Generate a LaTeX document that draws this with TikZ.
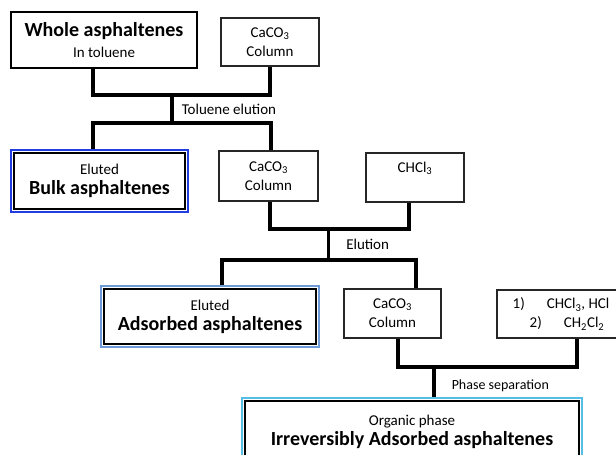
\documentclass[tikz,border=0pt]{standalone}
\usepackage{fontspec}
\setmainfont{Carlito}
\usetikzlibrary{fit}

\newcommand{\bigname}[1]{{\fontsize{20}{24}\selectfont\bfseries #1}}
\newcommand{\chemsub}[1]{\textsubscript{#1}}

\tikzset{
  box/.style={draw=black!85,line width=1.1pt,align=center,inner sep=0pt,
    font=\fontsize{15}{18}\selectfont},
  bigbox/.style={draw,line width=2.8pt,align=center,inner sep=0pt,
    font=\fontsize{15}{18}\selectfont},
  ring/.style={draw=#1,line width=2pt,inner sep=2pt},
  link/.style={line width=3.5pt},
  steplabel/.style={anchor=west,inner sep=0pt,font=\fontsize{15}{18}\selectfont}
}
\definecolor{bulkblue}{RGB}{35,60,225}
\definecolor{adsblue}{RGB}{110,155,215}
\definecolor{irrblue}{RGB}{85,190,230}

\begin{document}
\begin{tikzpicture}[x=1pt,y=-1pt]
\useasboundingbox (0,0) rectangle (616,455);
\clip (0,0) rectangle (616,455);

% first column step
\node[bigbox,minimum width=186,minimum height=56] (whole) at (104,40)
  {\bigname{Whole asphaltenes}\\[3pt]In toluene};
\node[box,minimum width=98,minimum height=48] (col1) at (270,42)
  {CaCO\chemsub{3}\\[1pt]Column};
\node[bigbox,minimum width=171,minimum height=56] (bulk) at (99.5,181)
  {Eluted\\[2pt]\bigname{Bulk asphaltenes}};
\node[ring=bulkblue,fit=(bulk)] (bulkring) {};

% second column step
\node[box,minimum width=99,minimum height=50] (col2) at (268.5,176)
  {CaCO\chemsub{3}\\[1pt]Column};
\node[box,minimum width=98,minimum height=49] (chcl) at (415,177.5)
  {CHCl\chemsub{3}\\[-3pt]\strut};
\node[bigbox,minimum width=212,minimum height=55] (ads) at (210,316.5)
  {Eluted\\[2pt]\bigname{Adsorbed asphaltenes}};
\node[ring=adsblue,fit=(ads)] (adsring) {};

% third column step
\node[box,minimum width=97,minimum height=49] (col3) at (392.5,313.5)
  {CaCO\chemsub{3}\\[1pt]Column};
\node[box,minimum width=128,minimum height=48] (acid) at (561,314)
  {1)\hspace{22pt}CHCl\chemsub{3}, HCl\\[1pt]
   \hspace{12pt}2)\hspace{22pt}CH\chemsub{2}Cl\chemsub{2}};
\node[bigbox,minimum width=334,minimum height=61] (irr) at (412,431.5)
  {Organic phase\\[2pt]\bigname{Irreversibly Adsorbed asphaltenes}};
\node[ring=irrblue,fit=(irr)] (irrring) {};

% connectors
\coordinate (t1) at (172,95);
\coordinate (t2) at (172,123);
\draw[link] ([xshift=-11pt]whole.south) |- (t1) -| (col1.south);
\draw[link] (t1) -- node[steplabel,xshift=8pt] {Toluene elution} (t2);
\draw[link] ([xshift=-6.5pt]bulkring.north) |- (t2) -| ([xshift=2.5pt]col2.north);

\coordinate (e1) at (328.5,229);
\coordinate (e2) at (328.5,260);
\draw[link] ([xshift=1.5pt]col2.south) |- (e1) -| ([xshift=-6pt]chcl.south);
\draw[link] (e1) -- node[steplabel,xshift=16pt] {Elution} (e2);
\draw[link] ([xshift=12pt]adsring.north) |- (e2) -| ([xshift=23.5pt]col3.north);

\coordinate (p1) at (434,367);
\draw[link] ([xshift=5.5pt]col3.south) |- (p1) -| ([xshift=16pt]acid.south);
\draw[link] (p1) -- node[steplabel,xshift=16pt,yshift=-3.5pt,
  font=\fontsize{14}{17}\selectfont] {Phase separation} (irrring.north -| p1);
\end{tikzpicture}
\end{document}
